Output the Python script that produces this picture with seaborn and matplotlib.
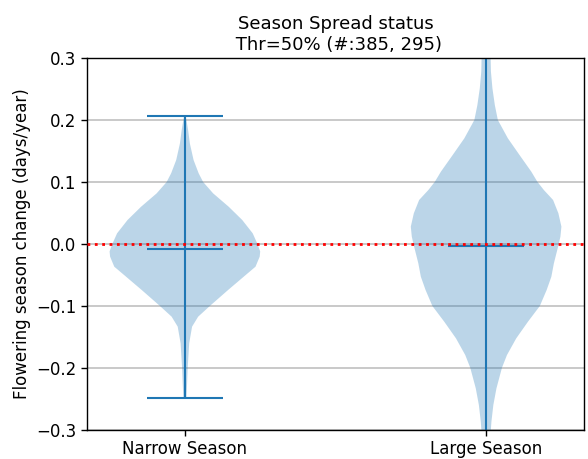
import numpy as np
import matplotlib
matplotlib.use("Agg")
import matplotlib.pyplot as plt
import seaborn as sns

# ---- data ----
categories = ["Narrow Season", "Large Season"]
title_text = "Season Spread status\n Thr=50% (#:385, 295)"
ylabel_text = "Flowering season change (days/year)"

# density profile (y value, half width in px) for each violin, top to bottom
narrow_y = [0.207, 0.205, 0.184, 0.162, 0.1355, 0.114, 0.100, 0.0817, 0.060, 0.0387,
            0.0172, 0.001, -0.012, -0.0204, -0.0366, -0.0527, -0.0742, -0.100,
            -0.1172, -0.1333, -0.1602, -0.200, -0.2247, -0.249]
narrow_d = [0.8, 1.0, 3.2, 5.0, 8.7, 13.8, 18.3, 28.3, 44.0, 57.5,
            68.0, 72.5, 75.5, 75.0, 70.8, 59.0, 43.3, 25.0,
            13.3, 7.2, 4.3, 2.8, 2.2, 1.5]
narrow_median = -0.008
narrow_min, narrow_max = -0.249, 0.207

large_y = [0.420, 0.360, 0.2995, 0.278, 0.251, 0.224, 0.200, 0.1704, 0.1435, 0.1167,
           0.1005, 0.0871, 0.071, 0.0495, 0.028, 0.0118, -0.0043, -0.0312, -0.0527,
           -0.0742, -0.100, -0.1253, -0.1522, -0.179, -0.1995, -0.2328, -0.2597,
           -0.2866, -0.300, -0.350, -0.400]
large_d = [1.0, 2.8, 4.5, 4.8, 6.3, 8.7, 11.7, 21.7, 33.3, 45.0,
           51.0, 57.5, 66.7, 72.0, 75.0, 74.0, 71.7, 67.5, 65.0,
           60.3, 53.5, 41.7, 30.0, 20.8, 15.8, 10.3, 7.2,
           5.3, 4.7, 2.8, 1.0]
large_median = -0.004
large_min, large_max = -0.400, 0.420

sns.set_theme(style="ticks", context="notebook")
plt.rcParams["font.family"] = ["DejaVu Sans"]
plt.rcParams["text.color"] = "black"
plt.rcParams["axes.labelcolor"] = "black"
plt.rcParams["xtick.color"] = "black"
plt.rcParams["ytick.color"] = "black"

fig, ax = plt.subplots(figsize=(5.88, 4.59), dpi=100)

def stats(ys, ds, med, mn, mx):
    ys = np.asarray(ys)[::-1]
    ds = np.asarray(ds, dtype=float)[::-1]
    return {"coords": ys, "vals": ds, "mean": med, "median": med, "min": mn, "max": mx}

vp = [stats(narrow_y, narrow_d, narrow_median, narrow_min, narrow_max),
      stats(large_y, large_d, large_median, large_min, large_max)]

color = sns.color_palette("tab10")[0]
parts = ax.violin(vp, positions=[1, 2], widths=0.5, showmeans=False,
                  showextrema=True, showmedians=True)
for b in parts["bodies"]:
    b.set_facecolor(color)
    b.set_edgecolor("none")
    b.set_alpha(0.3)
for k in ("cmins", "cmaxes", "cbars", "cmedians"):
    parts[k].set_color(color)
    parts[k].set_linewidth(1.5)

ax.axhline(0, color="red", linestyle=":", linewidth=2, zorder=3)
ax.set_ylim(-0.3, 0.3)
ax.set_yticks([-0.3, -0.2, -0.1, 0.0, 0.1, 0.2, 0.3])
ax.yaxis.grid(True, color="#c0c0c0", linewidth=1.2)
ax.set_axisbelow(True)
ax.set_xticks([1, 2])
ax.set_xticklabels(categories)
ax.tick_params(labelsize=12, direction="out", length=4, width=1, color="black")
ax.set_ylabel(ylabel_text, fontsize=12)
ax.set_title(title_text, fontsize=13, color="black")
for s in ax.spines.values():
    s.set_color("black")
    s.set_linewidth(1.0)

fig.subplots_adjust(left=87/588, right=584/588, top=1-58/459, bottom=1-430/459)
fig.savefig("out.png", dpi=100)
